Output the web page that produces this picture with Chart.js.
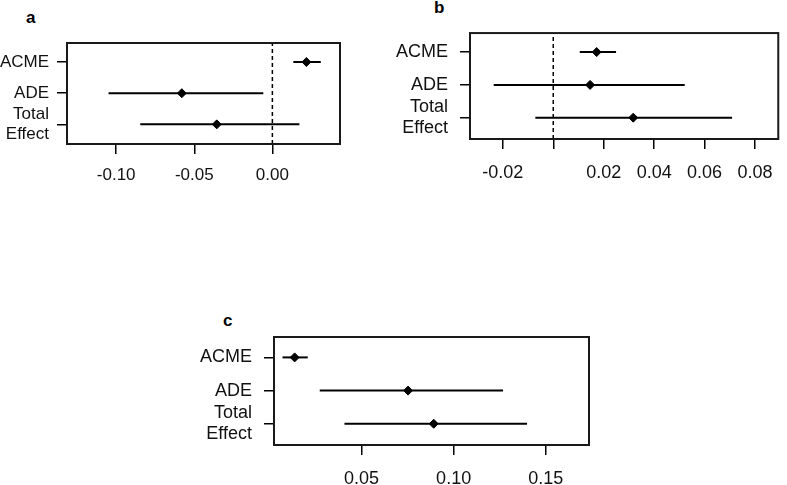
<!DOCTYPE html>
<html>
<head>
<meta charset="utf-8">
<script src="https://cdn.jsdelivr.net/npm/chart.js@4"></script>
<style>
  body { margin: 0; background: #fff; width: 787px; height: 485px; position: relative; overflow: hidden; }
  canvas { position: absolute; }
  .tag { position: absolute; font: bold 17px 'Liberation Sans', Arial, sans-serif; color: #000; }
</style>
</head>
<body>
<div class="tag" style="left:26px;top:8px">a</div>
<div class="tag" style="left:434px;top:-2px">b</div>
<div class="tag" style="left:223px;top:311px">c</div>
<canvas id="chartA" width="350" height="200" style="left:0px;top:0px"></canvas>
<canvas id="chartB" width="397" height="200" style="left:390px;top:0px"></canvas>
<canvas id="chartC" width="410" height="185" style="left:190px;top:300px"></canvas>
<script>
// rows, top to bottom
const rowLabels = ["ACME", "ADE", ["Total", "Effect"]];
const rowPos = [3, 2, 1];

// panel a
const estA = [0.0218, -0.0580, -0.0356];
const lowA = [0.0134, -0.1049, -0.0846];
const highA = [0.0310, -0.0058, 0.0173];
const ticksA = [-0.10, -0.05, 0.00];
const tickLabelsA = ["-0.10", "-0.05", "0.00"];

// panel b
const estB = [0.0172, 0.0146, 0.0317];
const lowB = [0.0105, -0.0236, -0.0071];
const highB = [0.0249, 0.0521, 0.0709];
const ticksB = [-0.02, 0.00, 0.02, 0.04, 0.06, 0.08];
const tickLabelsB = ["-0.02", "", "0.02", "0.04", "0.06", "0.08"];

// panel c
const estC = [0.0138, 0.0753, 0.0892];
const lowC = [0.0072, 0.0274, 0.0408];
const highC = [0.0209, 0.1268, 0.1398];
const ticksC = [0.05, 0.10, 0.15];
const tickLabelsC = ["0.05", "0.10", "0.15"];

const fontFamily = "'Liberation Sans', Arial, sans-serif";

const boxPlugin = {
  id: "box",
  afterDatasetsDraw(chart) {
    const a = chart.chartArea, ctx = chart.ctx;
    ctx.save();
    ctx.strokeStyle = "#1a1a1a";
    ctx.lineWidth = 2;
    ctx.strokeRect(a.left, a.top, a.right - a.left, a.bottom - a.top);
    ctx.restore();
  }
};

function makePanel(id, o) {
  const tickFont = { family: fontFamily, size: o.fontSize, lineHeight: o.lineHeight };
  const datasets = [];
  if (o.zeroLine) {
    datasets.push({
      data: [{ x: 0, y: o.yMin }, { x: 0, y: o.yMax }],
      showLine: true, borderColor: "#000", borderWidth: 1.5, borderDash: [4, 3], pointRadius: 0
    });
  }
  rowPos.forEach((r, i) => {
    datasets.push({
      data: [{ x: o.low[i], y: r }, { x: o.high[i], y: r }],
      showLine: true, borderColor: "#000", borderWidth: 2, pointRadius: 0
    });
  });
  datasets.push({
    data: rowPos.map((r, i) => ({ x: o.est[i], y: r })),
    pointStyle: "rectRot", pointRadius: 4.5, backgroundColor: "#000", borderColor: "#000", borderWidth: 1
  });

  new Chart(document.getElementById(id), {
    type: "scatter",
    data: { datasets },
    options: {
      responsive: false,
      animation: false,
      devicePixelRatio: 1,
      layout: { padding: o.padding },
      plugins: { legend: { display: false }, tooltip: { enabled: false } },
      scales: {
        x: {
          type: "linear", min: o.xMin, max: o.xMax,
          border: { display: false },
          grid: { drawOnChartArea: false, drawTicks: true, tickLength: 10, color: "#000", lineWidth: 1.5 },
          ticks: {
            color: "#111", font: tickFont, padding: o.xPad, autoSkip: false, maxRotation: 0,
            callback: v => o.tickLabels[o.ticks.indexOf(v)]
          },
          afterBuildTicks: s => { s.ticks = o.ticks.map(v => ({ value: v })); },
          afterFit: s => { s.height = o.xHeight; }
        },
        y: {
          type: "linear", min: o.yMin, max: o.yMax,
          border: { display: false },
          grid: { drawOnChartArea: false, drawTicks: true, tickLength: 10, color: "#000", lineWidth: 1.5 },
          ticks: {
            color: "#111", font: tickFont, padding: o.yPad, autoSkip: false,
            callback: v => rowLabels[rowPos.indexOf(v)]
          },
          afterBuildTicks: s => { s.ticks = rowPos.map(v => ({ value: v })); },
          afterFit: s => { s.width = o.yWidth; }
        }
      }
    },
    plugins: [boxPlugin]
  });
}

makePanel("chartA", {
  est: estA, low: lowA, high: highA, ticks: ticksA, tickLabels: tickLabelsA,
  xMin: -0.1315, xMax: 0.0433, yMin: 0.37, yMax: 3.61, zeroLine: true,
  padding: { top: 43, right: 10, left: 0, bottom: 0 }, yWidth: 67, xHeight: 56,
  yPad: 8, xPad: 12, fontSize: 17, lineHeight: 1.13
});
makePanel("chartB", {
  est: estB, low: lowB, high: highB, ticks: ticksB, tickLabels: tickLabelsB,
  xMin: -0.0330, xMax: 0.0892, yMin: 0.35, yMax: 3.58, zeroLine: true,
  padding: { top: 32, right: 2, left: 0, bottom: 0 }, yWidth: 80, xHeight: 61,
  yPad: 12, xPad: 14, fontSize: 18, lineHeight: 1.17
});
makePanel("chartC", {
  est: estC, low: lowC, high: highC, ticks: ticksC, tickLabels: tickLabelsC,
  xMin: 0.0026, xMax: 0.1734, yMin: 0.36, yMax: 3.615, zeroLine: false,
  padding: { top: 37, right: 11, left: 0, bottom: 0 }, yWidth: 84, xHeight: 40,
  yPad: 12, xPad: 14, fontSize: 18, lineHeight: 1.17
});
</script>
</body>
</html>
